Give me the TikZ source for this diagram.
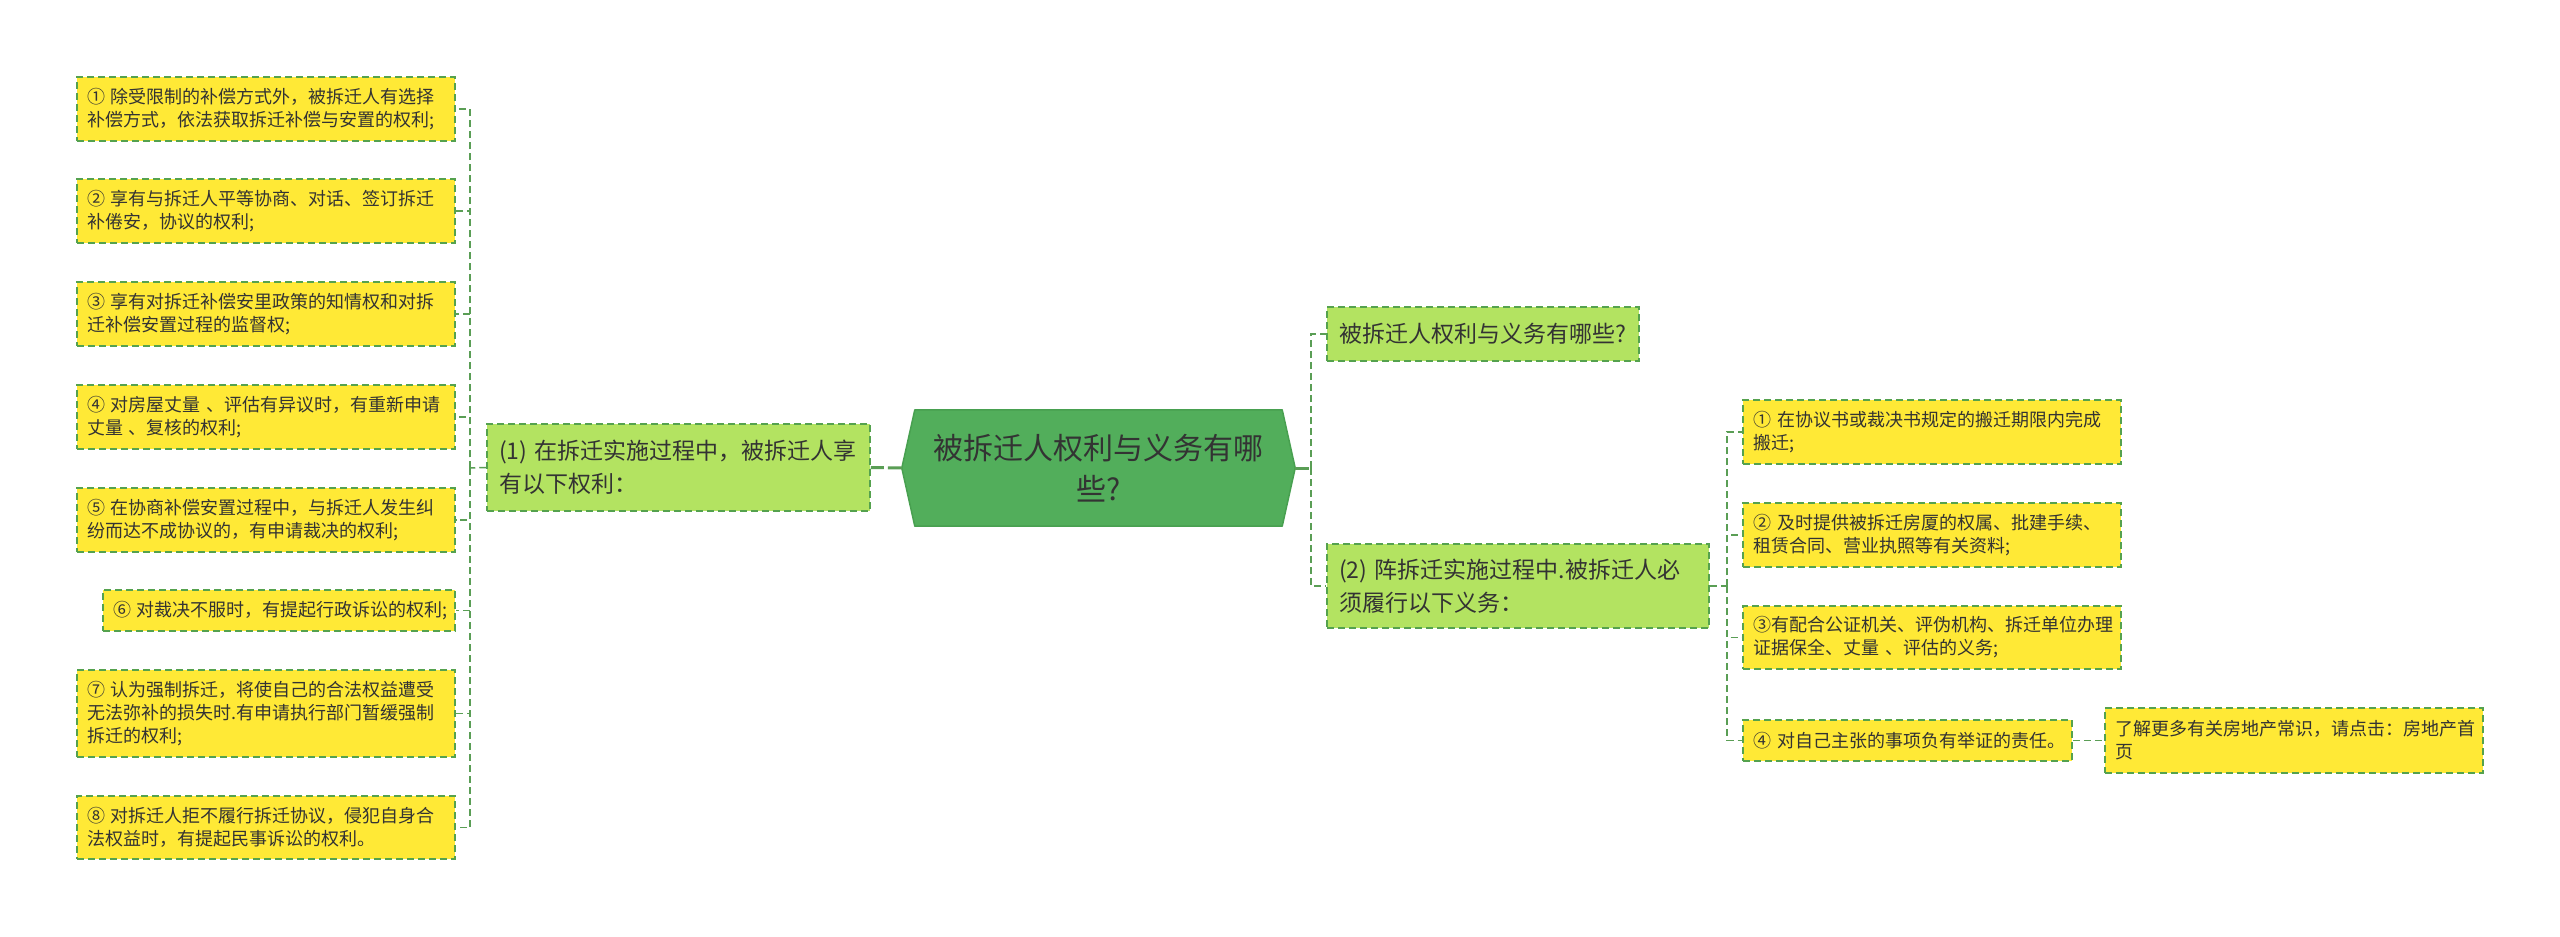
\documentclass[tikz,border=0pt]{standalone}
\usepackage{fontspec}
\setmainfont{Noto Sans CJK SC}
\usetikzlibrary{calc}
\pgfdeclarelayer{background}
\pgfsetlayers{background,main}
\definecolor{yel}{HTML}{FFE936}
\definecolor{bord}{HTML}{55A24E}
\definecolor{lgreen}{HTML}{B3E361}
\definecolor{cfill}{HTML}{52AE5B}
\definecolor{cbord}{HTML}{48A050}
\definecolor{conn}{HTML}{5A9E55}
\definecolor{txt}{HTML}{333333}
\begin{document}
\begin{tikzpicture}[x=1pt,y=-1pt,
  boxbase/.style={draw=bord, line width=1.5pt, dash pattern=on 7pt off 4pt,
    inner xsep=10pt, inner ysep=0pt, align=left, text=txt, anchor=center},
  ybox/.style={boxbase, fill=yel, font=\fontsize{18pt}{23pt}\selectfont},
  gbox/.style={boxbase, fill=lgreen, inner xsep=12pt, font=\fontsize{23pt}{33pt}\selectfont},
  cbox/.style={draw=none, inner xsep=10pt, inner ysep=0pt, align=center, text=txt,
    font=\fontsize{30pt}{41pt}\selectfont},
  link/.style={draw=conn, line width=1.5pt, dash pattern=on 7pt off 4pt},
  mainlink/.style={draw=conn, line width=3pt, dash pattern=on 14pt off 4pt}
]
\useasboundingbox (0,0) rectangle (2560,937);
\begin{pgfonlayer}{background}
\fill[white] (0,0) rectangle (2560,937);
\end{pgfonlayer}

% left children
\node[ybox, text width=358pt, minimum height=64pt] (b1) at (266,109) {①~除受限制的补偿方式外，被拆迁人有选择\\补偿方式，依法获取拆迁补偿与安置的权利;};
\node[ybox, text width=358pt, minimum height=64pt] (b2) at (266,211) {②~享有与拆迁人平等协商、对话、签订拆迁\\补倦安，协议的权利;};
\node[ybox, text width=358pt, minimum height=64pt] (b3) at (266,314) {③~享有对拆迁补偿安里政策的知情权和对拆\\迁补偿安置过程的监督权;};
\node[ybox, text width=358pt, minimum height=64pt] (b4) at (266,417) {④~对房屋丈量~、评估有异议时，有重新申请\\丈量~、复核的权利;};
\node[ybox, text width=358pt, minimum height=64pt] (b5) at (266,520) {⑤~在协商补偿安置过程中，与拆迁人发生纠\\纷而达不成协议的，有申请裁决的权利;};
\node[ybox, text width=332pt, minimum height=41pt] (b6) at (279,610.5) {⑥~对裁决不服时，有提起行政诉讼的权利;};
\node[ybox, text width=358pt, minimum height=87pt] (b7) at (266,713.5) {⑦~认为强制拆迁，将使自己的合法权益遭受\\无法弥补的损失时.有申请执行部门暂缓强制\\拆迁的权利;};
\node[ybox, text width=358pt, minimum height=63pt] (b8) at (266,827.5) {⑧~对拆迁人拒不履行拆迁协议，侵犯自身合\\法权益时，有提起民事诉讼的权利。};

% branch (1)
\node[gbox, text width=359pt, minimum height=87pt] (n1) at (678.5,467.5) {(1)~在拆迁实施过程中，被拆迁人享\\有以下权利：};

% center
\node[cbox, text width=373pt, minimum width=393pt, minimum height=116pt] (cn) at (1098.5,468) {被拆迁人权利与义务有哪\\些?};
\begin{pgfonlayer}{background}
\filldraw[fill=cfill, draw=cbord, line width=1.5pt, line join=round]
  (cn.west) -- ($(cn.north west)+(13,0)$) -- ($(cn.north east)+(-13,0)$) -- (cn.east)
  -- ($(cn.south east)+(-13,0)$) -- ($(cn.south west)+(13,0)$) -- cycle;
\end{pgfonlayer}

% right branches
\node[gbox, text width=288pt, minimum height=54pt] (t1) at (1483,334) {被拆迁人权利与义务有哪些?};
\node[gbox, text width=358pt, minimum height=84pt] (n2) at (1518,586) {(2)~阵拆迁实施过程中.被拆迁人必\\须履行以下义务：};

% right children
\node[ybox, text width=358pt, minimum height=64pt] (c1) at (1932,432) {①~在协议书或裁决书规定的搬迁期限内完成\\搬迁;};
\node[ybox, text width=358pt, minimum height=64pt] (c2) at (1932,535) {②~及时提供被拆迁房厦的权属、批建手续、\\租赁合同、营业执照等有关资料;};
\node[ybox, text width=358pt, minimum height=63pt] (c3) at (1932,637.5) {③有配合公证机关、评伪机构、拆迁单位办理\\证据保全、丈量~、评估的义务;};
\node[ybox, text width=309pt, minimum height=41pt] (c4) at (1907.5,740.5) {④~对自己主张的事项负有举证的责任。};
\node[ybox, text width=358pt, minimum height=65pt] (ex) at (2294,740.5) {了解更多有关房地产常识，请点击：房地产首\\页};

% junctions
\coordinate (jl) at (470,468);
\coordinate (jr) at (1311,468);
\coordinate (jr2) at (1727,586);

% connectors
\draw[mainlink] (cn.west) -- (n1.east);
\draw[mainlink] (cn.east) -- (jr);
\draw[link] (n1.west) -- (jl);
\foreach \b in {b1,b2,b3,b4,b5,b6,b7,b8} { \draw[link] (jl) |- (\b.east); }
\draw[link] (jr) |- (t1.west);
\draw[link] (jr) |- (n2.west);
\draw[link] (n2.east) -- (jr2);
\foreach \c in {c1,c2,c3,c4} { \draw[link] (jr2) |- (\c.west); }
\draw[link] (c4.east) -- (ex.west);
\end{tikzpicture}
\end{document}
